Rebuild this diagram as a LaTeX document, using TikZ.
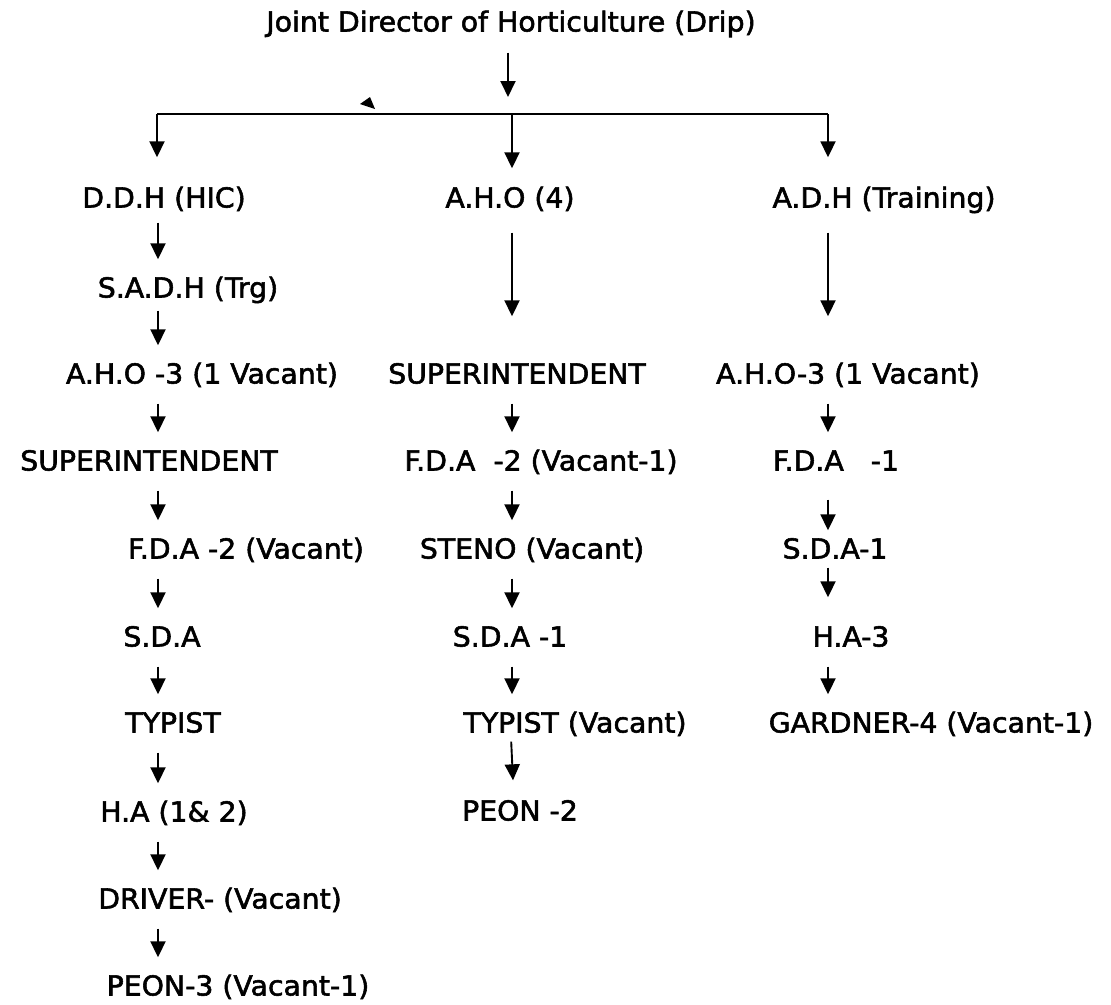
\documentclass[tikz,border=0pt]{standalone}
\usepackage{fontspec}
\setmainfont{DejaVu Sans}[FakeStretch=1.03, FakeBold=2]
\usetikzlibrary{arrows.meta}
\tikzset{
  post/.style={inner sep=0pt, text height=19pt, text depth=5pt, font=\fontsize{27.5}{32}\selectfont},
  link/.style={line width=1.9pt, -{Triangle[length=16pt,width=15pt]}, shorten <=15pt, shorten >=19pt},
  bus/.style={line width=1.9pt},
}
\begin{document}
\begin{tikzpicture}[x=1pt,y=-1pt]
\useasboundingbox (0,0) rectangle (1111,1004);
% column lines
\coordinate (c0) at (508,0);
\coordinate (c1) at (158,0);
\coordinate (c2) at (512,0);
\coordinate (c2a) at (511,0);
\coordinate (c2b) at (514,0);
\coordinate (c3) at (828,0);

% head
\node[post] (jdh) at (511,24.5) {Joint Director of Horticulture (Drip)};
\coordinate (bl) at (157,114);
\coordinate (bm) at (512,114);
\coordinate (br) at (828,114);

% column 1
\node[post] (ddh)   at (164,200.5) {D.D.H (HIC)};
\node[post] (sadh)  at (188,290.5) {S.A.D.H (Trg)};
\node[post] (ahoa)  at (202,376.5) {A.H.O -3 (1 Vacant)};
\node[post] (supa)  at (149,463.5) {SUPERINTENDENT};
\node[post] (fdaa)  at (246,551.5) {F.D.A -2 (Vacant)};
\node[post] (sdaa)  at (162,639.5) {S.D.A};
\node[post] (typa)  at (173,725.5) {TYPIST};
\node[post] (haa)   at (174,814.5) {H.A (1\& 2)};
\node[post] (drva)  at (220,901.5) {DRIVER- (Vacant)};
\node[post] (peona) at (238,988.5) {PEON-3 (Vacant-1)};

% column 2
\node[post] (ahob)  at (510,200.5) {A.H.O (4)};
\node[post] (supb)  at (517,376.5) {SUPERINTENDENT};
\node[post] (fdab)  at (541,463.5) {F.D.A \ -2 (Vacant-1)};
\node[post] (stenob) at (532,551.5) {STENO (Vacant)};
\node[post] (sdab)  at (510,639.5) {S.D.A -1};
\node[post] (typb)  at (575,725.5) {TYPIST (Vacant)};
\node[post] (peonb) at (520,813.5) {PEON -2};

% column 3
\node[post] (adhc)  at (884,200.5) {A.D.H (Training)};
\node[post] (ahoc)  at (848,376.5) {A.H.O-3 (1 Vacant)};
\node[post] (fdac)  at (836,463.5) {F.D.A \ \ -1};
\node[post] (sdac)  at (835,551.5) {S.D.A-1};
\node[post] (hac)   at (851,639.5) {H.A-3};
\node[post] (gardc) at (931,725.5) {GARDNER-4 (Vacant-1)};

% head links
\draw[link, shorten <=16pt, shorten >=17pt] (jdh.south -| c0) -- (bm -| c0);
\draw[bus] (bl) -- (br);
\fill (360,104) -- (370,97) -- (375,109) -- cycle;
\draw[link, shorten <=0pt, shorten >=31pt] (bl) -- (ddh.north -| bl);
\draw[link, shorten <=0pt, shorten >=20pt] (bm) -- (ahob.north -| bm);
\draw[link, shorten <=0pt, shorten >=31pt] (br) -- (adhc.north -| br);

% column 1 links
\draw[link, shorten <=10pt] (ddh.south -| c1) -- (sadh.north -| c1);
\draw[link, shorten <=8pt]  (sadh.south -| c1) -- (ahoa.north -| c1);
\draw[link] (ahoa.south -| c1) -- (supa.north -| c1);
\draw[link] (supa.south -| c1) -- (fdaa.north -| c1);
\draw[link] (fdaa.south -| c1) -- (sdaa.north -| c1);
\draw[link] (sdaa.south -| c1) -- (typa.north -| c1);
\draw[link] (typa.south -| c1) -- (haa.north -| c1);
\draw[link] (haa.south -| c1) -- (drva.north -| c1);
\draw[link] (drva.south -| c1) -- (peona.north -| c1);

% column 2 links
\draw[link, shorten <=20pt, shorten >=48pt] (ahob.south -| c2) -- (supb.north -| c2);
\draw[link] (supb.south -| c2) -- (fdab.north -| c2);
\draw[link] (fdab.south -| c2) -- (stenob.north -| c2);
\draw[link] (stenob.south -| c2) -- (sdab.north -| c2);
\draw[link] (sdab.south -| c2) -- (typb.north -| c2);
\draw[link, shorten <=4pt, shorten >=21pt] (typb.south -| c2a) -- (peonb.north -| c2b);

% column 3 links
\draw[link, shorten <=20pt, shorten >=48pt] (adhc.south -| c3) -- (ahoc.north -| c3);
\draw[link] (ahoc.south -| c3) -- (fdac.north -| c3);
\draw[link, shorten <=24pt, shorten >=9pt] (fdac.south -| c3) -- (sdac.north -| c3);
\draw[link, shorten <=4pt, shorten >=30pt] (sdac.south -| c3) -- (hac.north -| c3);
\draw[link] (hac.south -| c3) -- (gardc.north -| c3);
\end{tikzpicture}
\end{document}
